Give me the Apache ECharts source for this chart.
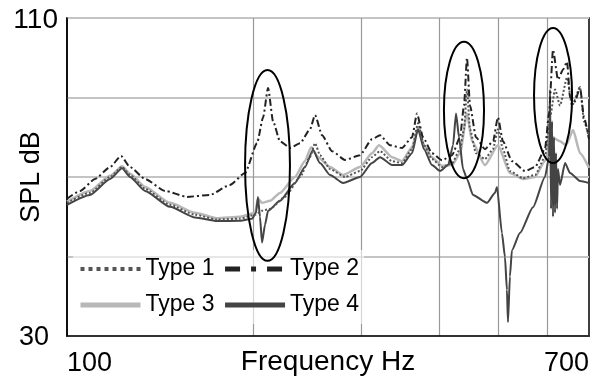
<!DOCTYPE html>
<html>
<head>
<meta charset="utf-8">
<script src="https://cdn.jsdelivr.net/npm/echarts@6/dist/echarts.min.js"></script>
<style>
  html, body { margin: 0; padding: 0; background: #fff; }
  #chart { width: 604px; height: 378px; }
</style>
</head>
<body>
<div id="chart"></div>
<script>
// values (Hz / dB)
const type1Freq = [100, 108.9, 117.4, 122.8, 126.5, 133.8, 146.8, 161.2, 174.9, 190.6, 201.6, 206.9, 213.2, 225.4, 238.4, 247.4, 252.1, 256.8, 266.6, 281.9, 298.1, 311.7, 321.2, 335.9, 348.6, 361.9, 370.1, 378.5, 389.8, 404.8, 420.2, 432.8, 439.3, 444.2, 449.2, 459.3, 475.0, 489.4, 498.5, 507.9, 521.3, 547.2, 572.4, 594.0, 605.3, 616.7, 628.3, 645.0, 657.2, 677.0, 687.1, 700];
const type1Db = [63.5, 66, 70, 72.5, 70.5, 67, 63, 60.5, 59.3, 59.5, 60.5, 61.5, 62, 65, 70, 75, 78.5, 75.5, 72, 70, 71.5, 75, 76.5, 74, 73.5, 77, 83.5, 78, 74.5, 72.5, 73.5, 77, 82, 92, 82, 76, 74.5, 77, 82, 77, 71.5, 69.7, 70.5, 75, 85, 92, 88, 95, 88, 92.5, 84, 80];

const type2Freq = [100, 105, 111, 117.4, 122.3, 126.5, 133.8, 144.1, 156.5, 170.4, 183.6, 194.2, 203.1, 207.7, 211.6, 215.6, 221.2, 229.6, 238.4, 247.4, 252.1, 258.8, 268.6, 281.9, 298.1, 311.7, 321.2, 333.4, 348.6, 361.9, 368.7, 377.0, 389.8, 404.8, 420.2, 432.8, 439.3, 444.2, 449.2, 459.3, 475.0, 489.4, 498.5, 507.9, 525.2, 551.4, 572.4, 594.0, 603.1, 612.1, 623.6, 635.3, 645.0, 652.3, 664.5, 677.0, 687.1, 700];
const type2Db = [64.5, 66.5, 69.5, 72.5, 75.3, 72.5, 69.5, 66.5, 65, 65.5, 68, 71, 78.5, 85, 92.4, 84, 79, 77.3, 78.5, 82, 85.6, 80.5, 76.5, 74.3, 75.5, 79.5, 80.5, 78, 77.3, 80, 86, 80, 76, 74.2, 75.5, 80, 88, 100, 88, 80, 77, 79, 85, 79, 74, 71.5, 72.5, 77, 86, 102, 94.5, 97, 99, 90, 89, 92.6, 85, 79.5];

const type3Freq = [100, 108.9, 117.4, 122.8, 126.5, 133.8, 146.8, 161.2, 174.9, 190.6, 201.6, 203.8, 206.9, 213.2, 221.2, 233.9, 242.8, 248.4, 255.0, 266.6, 279.9, 298.1, 311.7, 320.0, 335.9, 348.6, 361.9, 370.1, 378.5, 389.8, 404.8, 420.2, 432.8, 444.2, 452.5, 475.0, 498.5, 521.3, 547.2, 572.4, 594.0, 610.0, 628.3, 642.6, 659.6, 677.0, 700];
const type3Db = [63.8, 66.5, 70.3, 72.7, 70.8, 67.5, 63.5, 61, 59.6, 60, 61, 64.5, 63.5, 64, 66, 70, 74, 77.5, 75, 72.5, 70.5, 72.5, 76, 78, 75, 74, 77.5, 82.5, 78, 75, 72.8, 73, 76, 86, 79, 73, 78, 71, 69.5, 70, 74, 80, 79, 78, 81.8, 76, 72.3];

const type4Freq = [100, 108.9, 117.4, 122.8, 126.5, 133.8, 146.8, 161.2, 174.9, 190.6, 199.3, 202.3, 203.8, 205.3, 206.9, 209.2, 211.6, 221.2, 233.9, 242.8, 250.2, 256.8, 266.6, 279.9, 298.1, 311.7, 321.2, 335.9, 348.6, 361.9, 370.1, 378.5, 389.8, 401.8, 414.0, 421.7, 426.4, 431.2, 437.7, 444.2, 454.2, 478.6, 493.0, 496.7, 506.0, 511.7, 515.5, 517.5, 521.3, 525.2, 541.1, 568.1, 594.0, 603.1, 605.3, 607.6, 610.0, 612.1, 614.4, 616.7, 619.0, 621.4, 623.6, 628.3, 640.2, 652.3, 677.0, 700];
const type4Db = [63, 65.5, 69.5, 72.2, 70, 66.5, 62.5, 59.8, 58.9, 59, 59.5, 61, 65, 60, 53.5, 58, 61.5, 64, 68.5, 72.5, 76.8, 73.5, 70.5, 68.5, 70, 73.5, 75, 73, 73, 76, 82, 77, 73, 71.5, 73, 78, 86, 80, 72, 69.5, 65.5, 63.5, 66, 67.5, 55.9, 49.9, 41.6, 33.5, 45, 51.6, 55.9, 62.4, 70, 75, 92, 62, 84, 60, 80, 61, 76, 62, 72, 68, 73.5, 71, 69, 68.5];

const xTickLabels = [100, 700];
const xGridValues = [200, 300, 400, 500, 600];

// circled regions: [fromHz, toHz], [fromDb, toDb]
const ellipseFreq = [[194.2, 229.6], [407.6, 473.3], [570.3, 657.2]];
const ellipseDb = [[48.9, 96.9], [69.7, 104], [73.5, 107.5]];

const zip = (f, d) => f.map((v, i) => [v, d[i]]);
const font = "'Liberation Sans', Arial, sans-serif";

const chart = echarts.init(document.getElementById('chart'), null, { renderer: 'canvas' });

const lineSeries = (name, freq, db, style, z) => ({
  name: name,
  type: 'line',
  data: zip(freq, db),
  symbol: 'none',
  smooth: 0.2,
  smoothMonotone: 'x',
  lineStyle: style,
  itemStyle: { color: style.color },
  z: z,
  animation: false
});

const options = {
  animation: false,
  grid: {
    left: 67,
    right: 15,
    top: 18,
    bottom: 42,
    outerBoundsMode: 'none',
    containLabel: false,
    show: true,
    borderColor: '#000',
    borderWidth: 1.5
  },
  legend: {
    data: [
      { name: 'Type 1', lineStyle: { width: 4, type: [4, 4] } },
      { name: 'Type 2', lineStyle: { width: 5, type: [15, 11, 5, 11] } },
      { name: 'Type 3', lineStyle: { width: 5 } },
      { name: 'Type 4', lineStyle: { width: 5 } }
    ],
    left: 73,
    top: 250,
    width: 292,
    padding: 5,
    itemWidth: 60,
    itemHeight: 14,
    itemGap: 8,
    itemStyle: { opacity: 0 },
    backgroundColor: 'rgba(255,255,255,0.6)',
    textStyle: { fontSize: 23, color: '#000', fontFamily: font, lineHeight: 28 }
  },
  xAxis: {
    type: 'log',
    logBase: 10,
    min: 100,
    max: 700,
    name: 'Frequency Hz',
    nameLocation: 'middle',
    nameGap: 12,
    nameMoveOverlap: false,
    nameTextStyle: { fontSize: 28, color: '#000', fontFamily: font, verticalAlign: 'top' },
    axisLine: { lineStyle: { color: '#000', width: 1.5 } },
    axisTick: { show: false, customValues: xGridValues },
    axisLabel: {
      customValues: xTickLabels,
      fontSize: 27,
      color: '#000',
      fontFamily: font,
      margin: 14,
      alignMinLabel: 'left',
      alignMaxLabel: 'right'
    },
    splitLine: { show: true, lineStyle: { color: '#999', width: 1.2 } }
  },
  yAxis: {
    type: 'value',
    min: 30,
    max: 110,
    interval: 20,
    name: 'SPL dB',
    nameLocation: 'middle',
    nameGap: 22,
    nameMoveOverlap: false,
    nameTextStyle: { fontSize: 27, color: '#000', fontFamily: font },
    axisLine: { show: true, lineStyle: { color: '#000', width: 1.5 } },
    axisTick: { show: false },
    axisLabel: {
      fontSize: 27,
      color: '#000',
      fontFamily: font,
      margin: 9,
      formatter: (v) => (v === 110 ? '{a|110}' : v === 30 ? '{b|30}' : ''),
      rich: {
        a: { fontSize: 28, color: '#000', fontFamily: font, padding: [4, 0, 0, 0] },
        b: { fontSize: 27, color: '#000', fontFamily: font, padding: [4, 9, 0, 0] }
      }
    },
    splitLine: { show: true, lineStyle: { color: '#c4c4c4', width: 2 } }
  },
  series: [
    lineSeries('Type 1', type1Freq, type1Db, { color: '#555', width: 2, type: [2, 2] }, 3),
    lineSeries('Type 2', type2Freq, type2Db, { color: '#222', width: 2, type: [7, 3, 2, 3] }, 4),
    lineSeries('Type 3', type3Freq, type3Db, { color: '#b8b8b8', width: 2.5 }, 1),
    lineSeries('Type 4', type4Freq, type4Db, { color: '#444', width: 2 }, 2)
  ]
};

chart.setOption(options);

// circles around the resonances, placed through the chart's own axes
const ellipses = ellipseFreq.map((fr, i) => {
  const p1 = chart.convertToPixel({ gridIndex: 0 }, [fr[0], ellipseDb[i][0]]);
  const p2 = chart.convertToPixel({ gridIndex: 0 }, [fr[1], ellipseDb[i][1]]);
  return {
    type: 'ellipse',
    shape: {
      cx: (p1[0] + p2[0]) / 2,
      cy: (p1[1] + p2[1]) / 2,
      rx: Math.abs(p2[0] - p1[0]) / 2,
      ry: Math.abs(p2[1] - p1[1]) / 2
    },
    style: { fill: 'none', stroke: '#000', lineWidth: 2 },
    z: 100
  };
});
chart.setOption({ graphic: ellipses });
</script>
</body>
</html>
